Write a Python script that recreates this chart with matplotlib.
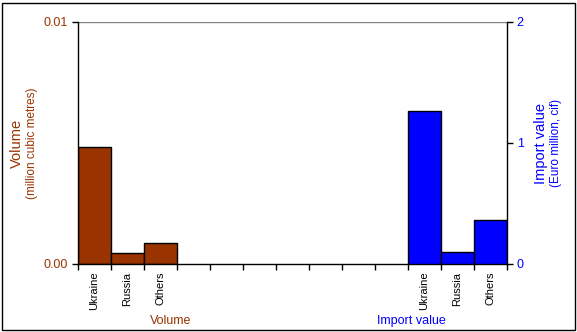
import matplotlib
matplotlib.use("Agg")
import matplotlib.pyplot as plt
from matplotlib.patches import Rectangle

plt.rcParams['font.family'] = ['Liberation Sans', 'DejaVu Sans']

categories = ["Ukraine", "Russia", "Others"]
volume = [0.00481, 0.00042, 0.00083]
import_value = [1.258, 0.093, 0.357]
n_slots = 13
vol_slots = [0, 1, 2]
imp_slots = [10, 11, 12]

BROWN = "#993300"
BLUE = "#0000FF"

W, H = 577, 332
fig = plt.figure(figsize=(W / 100, H / 100), dpi=100)
ax = fig.add_axes([77.5 / W, 1 - 263.5 / H, (507 - 77.5) / W, (263.5 - 21.5) / H])
ax2 = ax.twinx()

ax.bar(vol_slots, volume, width=1.0, align='edge', color=BROWN, edgecolor='black', linewidth=1)
ax2.bar(imp_slots, import_value, width=1.0, align='edge', color=BLUE, edgecolor='black', linewidth=1)

ax.set_xlim(0, n_slots)
ax.set_ylim(0, 0.01)
ax2.set_ylim(0, 2)
ax.set_yticks([0, 0.01])
ax.set_yticklabels(["0.00", "0.01"])
ax2.set_yticks([0, 1, 2])
ax2.set_yticklabels(["0", "1", "2"])

ax.axhline(0.01, color='#808080', linewidth=1)

for a in (ax, ax2):
    a.spines['top'].set_visible(False)
ax.spines['right'].set_visible(False)
ax2.spines['left'].set_visible(False)
ax.spines['left'].set_linewidth(1)
ax.spines['bottom'].set_linewidth(1)
ax2.spines['right'].set_linewidth(1)
ax2.spines['bottom'].set_visible(False)

ax.set_xticks(range(n_slots + 1))
ax.set_xticklabels([])
ax.tick_params(axis='x', direction='out', length=4, width=1)
ax.tick_params(axis='y', direction='out', length=4, width=1, labelsize=9, labelcolor=BROWN, pad=3)
ax2.tick_params(axis='y', direction='out', length=4, width=1, labelsize=9, labelcolor=BLUE, pad=3)

# category labels
for slots in (vol_slots, imp_slots):
    for s, c in zip(slots, categories):
        ax.annotate(c, xy=(s + 0.5, 0), xycoords='data', xytext=(0, -6), textcoords='offset points',
                    rotation=90, ha='center', va='top', fontsize=8, color='black')

# group labels
fig.text(171 / W, 1 - 321 / H, "Volume", ha='center', va='center', fontsize=9, color=BROWN)
fig.text(411 / W, 1 - 321 / H, "Import value", ha='center', va='center', fontsize=9, color=BLUE)

# axis titles
fig.text(17 / W, 1 - 143 / H, "Volume", rotation=90, ha='center', va='center', fontsize=10.5, color=BROWN)
fig.text(32 / W, 1 - 143 / H, "(million cubic metres)", rotation=90, ha='center', va='center', fontsize=8.5, color=BROWN)
fig.text(541 / W, 1 - 143 / H, "Import value", rotation=90, ha='center', va='center', fontsize=10.5, color=BLUE)
fig.text(556 / W, 1 - 143 / H, "(Euro million, cif)", rotation=90, ha='center', va='center', fontsize=8.5, color=BLUE)

# outer border
fig.patches.append(Rectangle((1.5 / W, 1 - 329.5 / H), 573 / W, 327 / H, transform=fig.transFigure,
                             fill=False, edgecolor='black', linewidth=1))

fig.savefig("out.png", dpi=100)
